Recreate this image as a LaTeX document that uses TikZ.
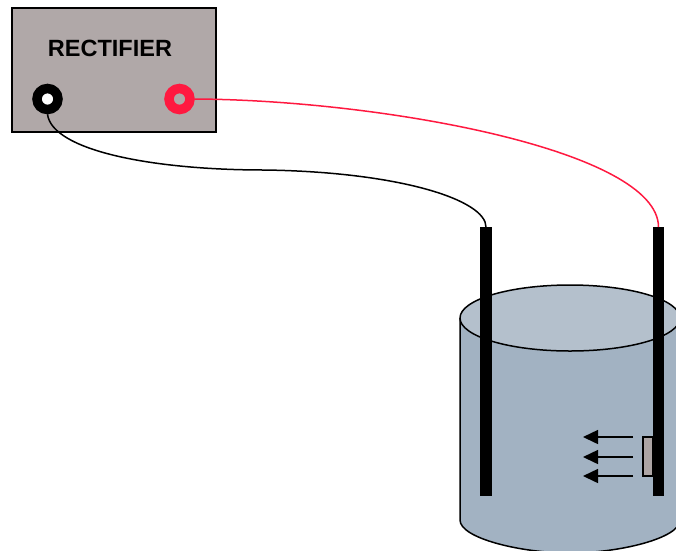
\documentclass[tikz,border=0pt]{standalone}
\usepackage{fontspec}
\setmainfont{Liberation Sans}
\usetikzlibrary{arrows.meta}
\definecolor{boxgray}{RGB}{176,168,168}
\definecolor{plugred}{RGB}{255,25,64}
\definecolor{bathside}{RGB}{162,178,194}
\definecolor{bathtop}{RGB}{180,192,204}
\definecolor{platefill}{RGB}{173,165,165}
\begin{document}
\begin{tikzpicture}[x=1pt,y=-1pt,
  housing/.style={rectangle, fill=boxgray, draw=black, line width=1.5pt,
    minimum width=204pt, minimum height=124pt, inner sep=0pt},
  terminal/.style={circle, minimum size=21pt, inner sep=0pt, line width=9.5pt},
  wire/.style={line width=1.5pt},
  electrode/.style={rectangle, fill=black, minimum width=11.5pt,
    minimum height=269pt, inner sep=0pt, outer sep=0pt},
  plate/.style={rectangle, fill=platefill, draw=black, line width=1.2pt,
    minimum width=10pt, minimum height=39pt, inner sep=0pt},
  ionflow/.style={line width=1.5pt, -{Triangle[length=15pt,width=14pt]}},
  bathline/.style={draw=black, line width=1.5pt}
]
\useasboundingbox (0,0) rectangle (676,550);
\clip (0,0) rectangle (676,550);

% rectifier housing
\node[housing] (rect) at (114,70) {};
\node[font=\bfseries\fontsize{23.5}{28}\selectfont] (title) at (110,48) {RECTIFIER};

% electrolyte bath (cylinder)
\path[fill=bathside, bathline] (460,318) -- (460,520)
  .. controls (460,538.2) and (520.7,553) .. (570,553)
  .. controls (619.3,553) and (680,538.2) .. (680,520) -- (680,318);
\draw[fill=bathtop, bathline] (570,318) ellipse [x radius=110, y radius=33];

% part being plated and the ion flow
\node[plate] (part) at (648,456.5) {};
\coordinate (f1s) at (633,437); \coordinate (f1e) at (583,437);
\coordinate (f2s) at (633,457); \coordinate (f2e) at (583,457);
\coordinate (f3s) at (633,476); \coordinate (f3e) at (583,476);
\draw[ionflow] (f1s) -- (f1e);
\draw[ionflow] (f2s) -- (f2e);
\draw[ionflow] (f3s) -- (f3e);

% electrodes
\node[electrode] (cathode) at (486,361.5) {};
\node[electrode] (anode) at (658.5,361.5) {};

% terminals
\node[terminal, draw=black, fill=white] (neg) at (47.5,99) {};
\node[terminal, draw=plugred, fill=boxgray] (pos) at (179.5,99) {};

% leads
\draw[wire] (neg.south) .. controls (52,150) and (150,170) .. (265,170)
  .. controls (400,172) and (486,200) .. (cathode.north);
\draw[wire, draw=plugred] (pos.east) .. controls (380,100) and (658,150) .. (anode.north);
\end{tikzpicture}
\end{document}
